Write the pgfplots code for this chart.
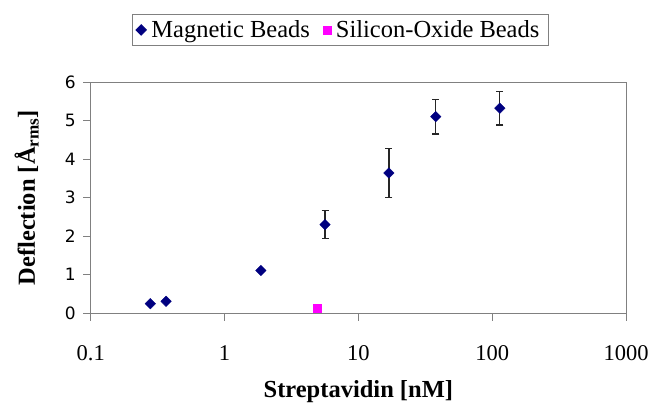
\documentclass[border=0pt]{standalone}
\usepackage{fontspec}
\setmainfont{Liberation Serif}
\newfontfamily\ysans{DejaVu Sans}
\usepackage{pgfplots}
\pgfplotsset{compat=1.18}
\definecolor{navyc}{RGB}{0,0,128}
\definecolor{magc}{RGB}{255,0,255}
\definecolor{framec}{RGB}{128,128,128}
\begin{document}
\begin{tikzpicture}
\path[use as bounding box] (-90.7pt,-88.7pt) rectangle (564.3pt,313.3pt);
\begin{axis}[
  at={(0pt,0pt)}, anchor=south west,
  scale only axis, width=535.3pt, height=231.3pt,
  xmode=log, xmin=0.1, xmax=1000, ymin=0, ymax=6,
  log basis x=10,
  xtick={0.1,1,10,100,1000},
  xticklabels={0.1,1,10,100,1000},
  ytick={0,1,2,3,4,5,6},
  yticklabels={0,1,2,3,4,5,6},
  minor tick num=0, minor xtick={},
  axis line style={framec, line width=0.9pt},
  tick style={framec, line width=0.9pt},
  tick align=outside, major tick length=7.5pt,
  xtick pos=bottom, ytick pos=left,
  xticklabel style={font=\fontsize{22.5}{24}\selectfont, yshift=-21pt},
  yticklabel style={font=\fontsize{17}{20}\ysans, xshift=-4pt},
  xlabel={\textbf{Streptavidin [nM]}},
  ylabel={\textbf{Deflection [Å\textsubscript{rms}]}},
  every axis x label/.style={at={(rel axis cs:0.5,0)}, anchor=center, yshift=-78.5pt, font=\fontsize{24.5}{26}\selectfont},
  every axis y label/.style={at={(rel axis cs:0,0.5)}, rotate=90, anchor=center, yshift=64pt, font=\fontsize{24.5}{26}\selectfont},
  legend columns=2,
  legend style={at={(rel axis cs:0.466,1.225)}, anchor=center, draw=framec, line width=0.8pt,
    font=\fontsize{24.5}{26}\selectfont, inner xsep=4pt, inner ysep=4pt,
    nodes={inner xsep=5pt},
    /tikz/every even column/.append style={column sep=8pt}},
  legend image code/.code={\draw[#1] plot coordinates {(0.25cm,0cm)};},
  clip=false,
]
\addplot[only marks, mark=square*, mark size=3.7pt, color=navyc, mark options={fill=navyc, draw=navyc, rotate=45}]
  coordinates {(0.279,0.25) (0.366,0.31) (1.87,1.11)};
\addlegendentry{Magnetic Beads}
\addplot[only marks, mark=square*, mark size=4pt, color=magc, mark options={fill=magc, draw=magc}]
  coordinates {(4.94,0.12)};
\addlegendentry{Silicon-Oxide Beads}
\addplot[only marks, mark=square*, mark size=3.7pt, color=navyc, mark options={fill=navyc, draw=navyc, rotate=45},
  error bars/.cd, y dir=both, y explicit,
  error bar style={color=black!85, line width=1.4pt},
  error mark options={rotate=90, mark size=3.5pt, line width=1.4pt, color=black!85}]
  coordinates {
    (5.64,2.30) +- (0,0.36)
    (16.9,3.64) +- (0,0.64)
    (37.9,5.10) +- (0,0.45)
    (114,5.32) +- (0,0.44)
  };
\end{axis}
\end{tikzpicture}
\end{document}
